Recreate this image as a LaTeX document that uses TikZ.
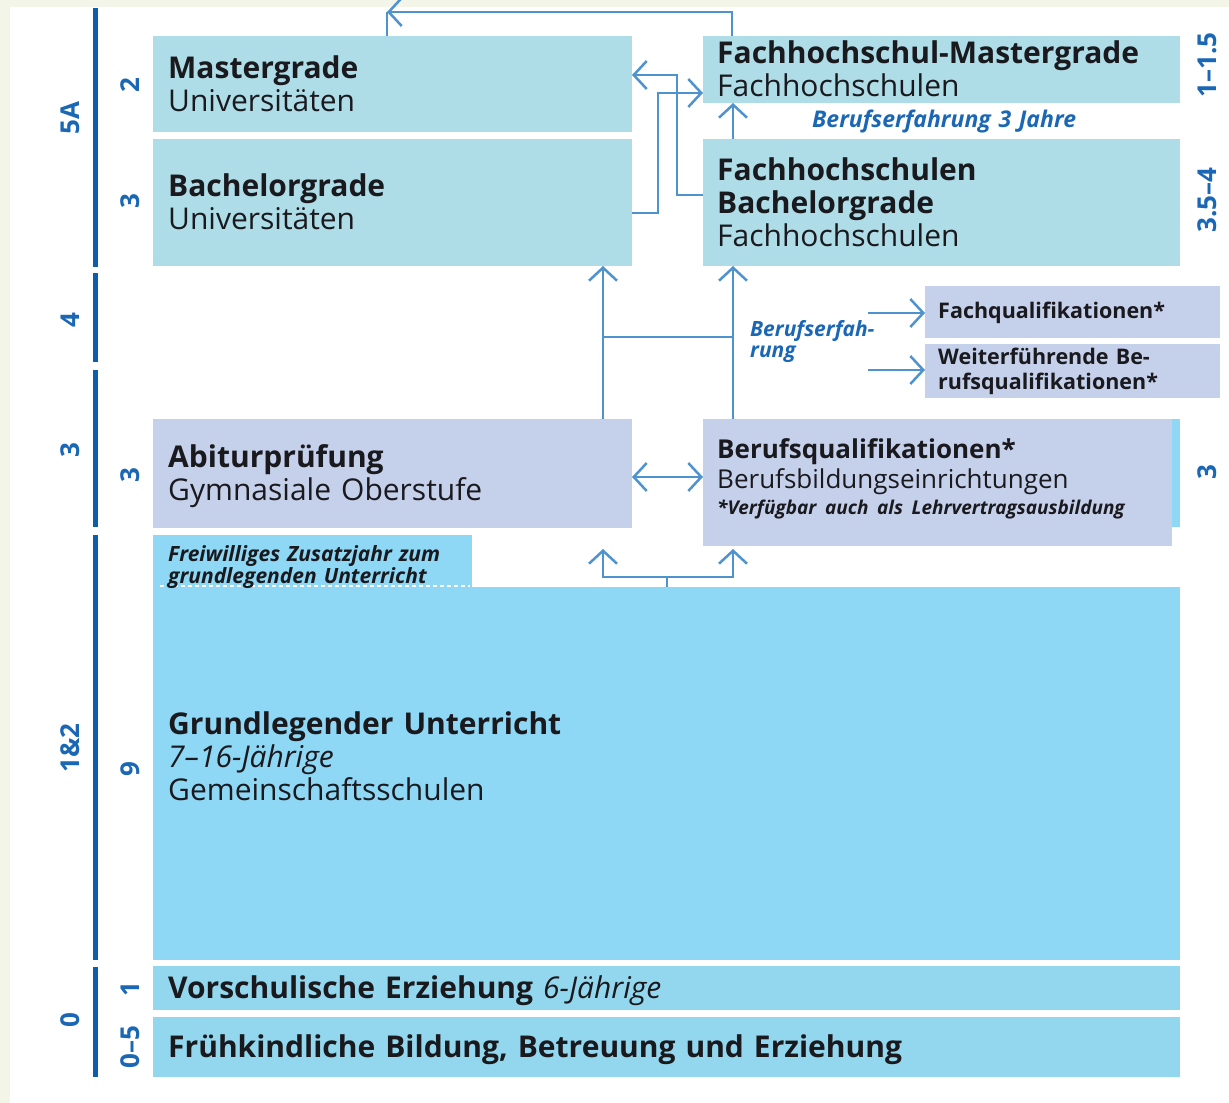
\documentclass[tikz,border=0pt]{standalone}
\usepackage{fontspec}
\setmainfont{Open Sans}
\usetikzlibrary{arrows.meta}

\definecolor{boxteal}{RGB}{174,221,232}
\definecolor{boxlav}{RGB}{197,208,234}
\definecolor{boxsky}{RGB}{142,215,245}
\definecolor{boxpre}{RGB}{147,215,238}
\definecolor{axisblue}{RGB}{12,94,170}
\definecolor{arrblue}{RGB}{79,147,206}
\definecolor{lblblue}{RGB}{26,103,181}
\definecolor{pagebg}{RGB}{243,245,232}
\definecolor{txtdark}{RGB}{25,25,30}

\newcommand\fbig{\fontsize{30}{33}\selectfont}
\newcommand\fmid{\fontsize{26}{30}\selectfont}
\newcommand\fsub{\fontsize{21.5}{25}\selectfont}
\newcommand\fnote{\fontsize{23}{19}\selectfont}
\newcommand\fnotetwo{\fontsize{21}{21}\selectfont}
\newcommand\fsmall{\fontsize{19}{22}\selectfont}
\newcommand\fextra{\fontsize{21}{22}\selectfont}
\newcommand\flbl{\fontsize{26}{26}\selectfont}

\begin{document}
\begin{tikzpicture}[x=1pt,y=-1pt,
    box/.style={anchor=north west, inner sep=0, outer sep=0},
    txt/.style={anchor=base west, inner sep=0, align=left, text width=#1, text=txtdark},
    txt/.default=500pt,
    lbl/.style={rotate=90, font=\flbl\bfseries, text=lblblue, inner sep=0},
    axis/.style={draw=axisblue, line width=5pt},
    line/.style={draw=arrblue, line width=2.5pt},
    arr/.style={line, -{Straight Barb[length=13pt,width=28pt]}},
    darr/.style={line, {Straight Barb[length=13pt,width=28pt]}-{Straight Barb[length=13pt,width=28pt]}},
    note/.style={anchor=base west, inner sep=0, align=left, text width=300pt, text=lblblue, font=\fnote\bfseries\itshape}
    ]
    \useasboundingbox (0,0) rectangle (1229,1103);
    \fill[white] (0,0) rectangle (1229,1103);
    \fill[pagebg] (0,0) rectangle (10,1103);
    \fill[pagebg] (0,0) rectangle (1229,7);

    % scale on the left
    \draw[axis] (95,8) -- (95,267);
    \draw[axis] (95,273) -- (95,362);
    \draw[axis] (95,370) -- (95,527);
    \draw[axis] (95,535) -- (95,960);
    \draw[axis] (95,967) -- (95,1077);
    \node[lbl] (isced5) at (70,118) {5A};
    \node[lbl] (isced4) at (70,320) {4};
    \node[lbl] (isced3) at (70,450) {3};
    \node[lbl] (isced12) at (70,748) {1\&2};
    \node[lbl] (isced0) at (70,1020) {0};

    % boxes
    \node[box, fill=boxteal, minimum width=479pt, minimum height=96pt] (mg) at (153,36) {};
    \node[box, fill=boxteal, minimum width=479pt, minimum height=127pt] (bg) at (153,139) {};
    \node[box, fill=boxteal, minimum width=477pt, minimum height=67pt] (fhm) at (703,36) {};
    \node[box, fill=boxteal, minimum width=477pt, minimum height=127pt] (fhb) at (703,139) {};
    \node[box, fill=boxlav, minimum width=295pt, minimum height=52pt] (fq) at (925,286) {};
    \node[box, fill=boxlav, minimum width=295pt, minimum height=54pt] (wb) at (925,344) {};
    \node[box, fill=boxlav, minimum width=479pt, minimum height=109pt] (ab) at (153,419) {};
    \node[box, fill=boxsky, minimum width=8pt, minimum height=108pt] (bqside) at (1172,419) {};
    \node[box, fill=boxlav, minimum width=469pt, minimum height=127pt] (bq) at (703,419) {};
    \node[box, fill=boxsky, minimum width=319pt, minimum height=53pt] (fz) at (153,535) {};
    \node[box, fill=boxsky, minimum width=1027pt, minimum height=373pt] (gu) at (153,587) {};
    \node[box, fill=boxpre, minimum width=1027pt, minimum height=44pt] (vs) at (153,966) {};
    \node[box, fill=boxpre, minimum width=1027pt, minimum height=60pt] (fk) at (153,1017) {};
    \draw[white, line width=1.5pt, dash pattern=on 4pt off 3pt] (160,586) -- (470,586);

    % years
    \node[lbl] (y-mg) at (130,85) {2};
    \node[lbl] (y-bg) at (130,201) {3};
    \node[lbl] (y-ab) at (130,475) {3};
    \node[lbl] (y-gu) at (130,769) {9};
    \node[lbl] (y-vs) at (130,989) {1};
    \node[lbl] (y-fk) at (130,1047) {0--5};
    \node[lbl] (y-fhm) at (1207,65) {1--1.5};
    \node[lbl] (y-fhb) at (1207,200) {3.5--4};
    \node[lbl] (y-bq) at (1207,472) {3};

    % texts
    \node[txt, font=\fbig] (t-mg) at (168,78) {\textbf{Mastergrade}\\Universitäten};
    \node[txt, font=\fbig] (t-bg) at (168,196) {\textbf{Bachelorgrade}\\Universitäten};
    \node[txt, font=\fbig] (t-fhm) at (717,63) {\textbf{Fachhochschul-Mastergrade}\\Fachhochschulen};
    \node[txt, font=\fbig] (t-fhb) at (717,180) {\textbf{Fachhochschulen}\\\textbf{Bachelorgrade}\\Fachhochschulen};
    \node[txt=290pt, font=\fsub\bfseries] (t-fq) at (938,318) {Fachqualifikationen*};
    \node[txt=290pt, font=\fsub\bfseries] (t-wb) at (938,364) {Weiterführende Be-\\rufsqualifikationen*};
    \node[txt, font=\fbig] (t-ab) at (168,467) {\textbf{Abiturprüfung}\\Gymnasiale Oberstufe};
    \node[txt, font=\fmid] (t-bq) at (717,458) {\textbf{Berufsqualifikationen*}\\Berufsbildungseinrichtungen\\[-4pt]{\fsmall\bfseries\itshape *Verfügbar auch als Lehrvertragsausbildung}};
    \node[txt=310pt, font=\fextra\bfseries\itshape] (t-fz) at (168,561) {Freiwilliges Zusatzjahr zum\\grundlegenden Unterricht};
    \node[txt, font=\fbig] (t-gu) at (168,734) {\textbf{Grundlegender Unterricht}\\\textit{7--16-Jährige}\\Gemeinschaftsschulen};
    \node[txt=1000pt, font=\fbig] (t-vs) at (168,998) {\textbf{Vorschulische Erziehung} \textit{6-Jährige}};
    \node[txt=1000pt, font=\fbig] (t-fk) at (168,1057) {\textbf{Frühkindliche Bildung, Betreuung und Erziehung}};
    \node[note] (n-fh) at (812,127) {Berufserfahrung 3 Jahre};
    \node[note, font=\fnotetwo\bfseries\itshape] (n-bq) at (750,336) {Berufserfah-\\rung};

    % connectors
    \coordinate (topl) at (387,12);
    \draw[arr] ([xshift=29pt]fhm.north west) |- (topl);
    \draw[line] (topl) -- (topl |- mg.north);
    \draw[arr] (fhb.west |- 0,195) -| (677,75) -- (mg.east |- 0,75);
    \draw[arr] (bg.east |- 0,213) -| (658,93) -- (fhm.west |- 0,93);
    \draw[arr] (fhb.north -| 733,0) -- (fhm.south -| 733,0);
    \draw[arr] (ab.north -| 603,0) -- (bg.south -| 603,0);
    \draw[arr] (bq.north -| 733,0) -- (fhb.south -| 733,0);
    \coordinate (j1) at (603,337);
    \coordinate (j2) at (733,337);
    \draw[line] (j1) -- (j2);
    \coordinate (e1) at (868,313);
    \coordinate (e2) at (868,370);
    \draw[arr] (e1) -- (fq.west |- e1);
    \draw[arr] (e2) -- (wb.west |- e2);
    \draw[darr] (ab.east |- 0,477) -- (bq.west |- 0,477);
    \coordinate (fork) at (667,577);
    \coordinate (t1) at (603,549);
    \coordinate (t2) at (733,549);
    \draw[line] (gu.north -| fork) -- (fork);
    \draw[arr] (fork) -| (t1);
    \draw[arr] (fork) -| (t2);
\end{tikzpicture}
\end{document}
